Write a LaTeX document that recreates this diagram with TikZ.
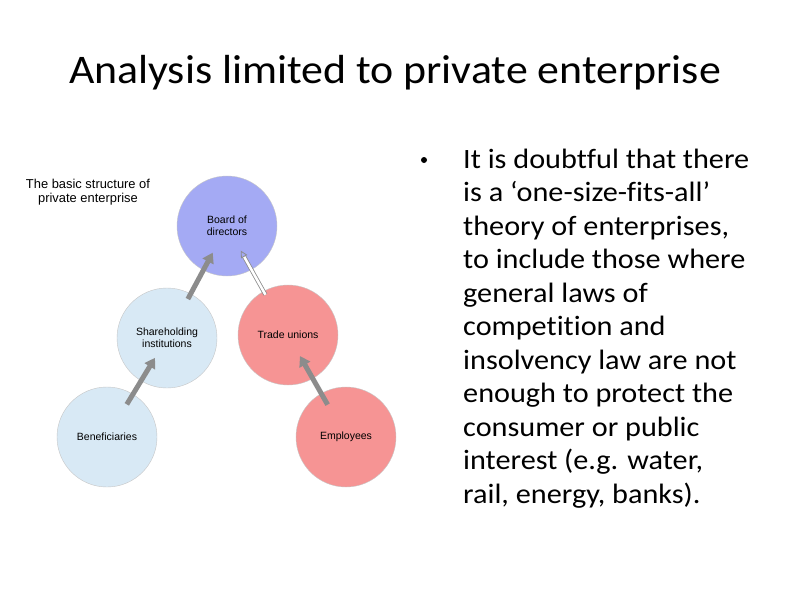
\documentclass[tikz,border=0pt]{standalone}
\usepackage{fontspec}
\setmainfont{Liberation Sans}
\newfontfamily\slidefont[FakeStretch=1.08, Ligatures=NoCommon]{Carlito}
\usetikzlibrary{arrows.meta}

\definecolor{boardblue}{HTML}{A4AAF4}
\definecolor{ownerblue}{HTML}{D8E9F5}
\definecolor{unionred}{HTML}{F69494}
\definecolor{arrowgray}{HTML}{8C8C8C}

\begin{document}
\begin{tikzpicture}[%
		x=1pt, y=-1pt,
		party/.style={
			circle,
			minimum size=100pt,
			inner sep=0pt,
			draw=gray!45,
			thin,
			align=center,
			font=\fontsize{10.5}{12}\selectfont
		},
		board/.style={
			party,
			fill=boardblue
		},
		owner/.style={
			party,
			fill=ownerblue
		},
		labour/.style={
			party,
			fill=unionred
		},
		flowarrow/.style={
			draw=arrowgray,
			line width=5pt,
			-{Triangle[length=10pt,width=12pt]},
			shorten <=-10pt,
			shorten >=-24pt
		},
		dutyarrow/.style={
			draw=arrowgray,
			line width=0.8pt,
			double=white,
			double distance=2.5pt,
			-{Triangle[open,length=7pt,width=7pt]},
			shorten <=-4pt,
			shorten >=-22pt
		}]

		\useasboundingbox (0,0) rectangle (794,595);

		% TITLE

		\node (title) [anchor=base, font=\slidefont\fontsize{40.6}{49}\selectfont] at (395,83) {Analysis limited to private enterprise};

		% DIAGRAM

		\node (caption) [align=center, font=\fontsize{12.9}{13.5}\selectfont] at (88,192) {The basic structure of\\private enterprise};

		\node (board) [board] at (227,226) {Board of\\directors};
		\node (share) [owner] at (167,338) {Shareholding\\institutions};
		\node (trade) [labour] at (288,335) {Trade unions};
		\node (benef) [owner] at (107,437) {Beneficiaries};
		\node (emp) [labour] at (346,437) {Employees};

		% DIAGRAM ARROWS

		\draw[flowarrow, shorten <=-12pt, shorten >=-27pt] (benef) -- (share);
		\draw[flowarrow, shorten <=-6pt, shorten >=-20pt] (share) -- (board);
		\draw[flowarrow, shorten <=-13pt, shorten >=-26pt] (emp) -- (trade);
		\draw[dutyarrow] (trade) -- (board);

		% BULLET

		\node (dot) [circle, fill, inner sep=0pt, minimum size=6pt] at (424,160) {};
		\node (points) [anchor=base west, align=left, inner sep=0pt, font=\slidefont\fontsize{28}{33.5}\selectfont] at (463,503) {It is doubtful that there\\is a ‘one-size-fits-all’\\theory of enterprises,\\to include those where\\general laws of\\competition and\\insolvency law are not\\enough to protect the\\consumer or public\\interest (e.g. water,\\rail, energy, banks).};
\end{tikzpicture}
\end{document}
